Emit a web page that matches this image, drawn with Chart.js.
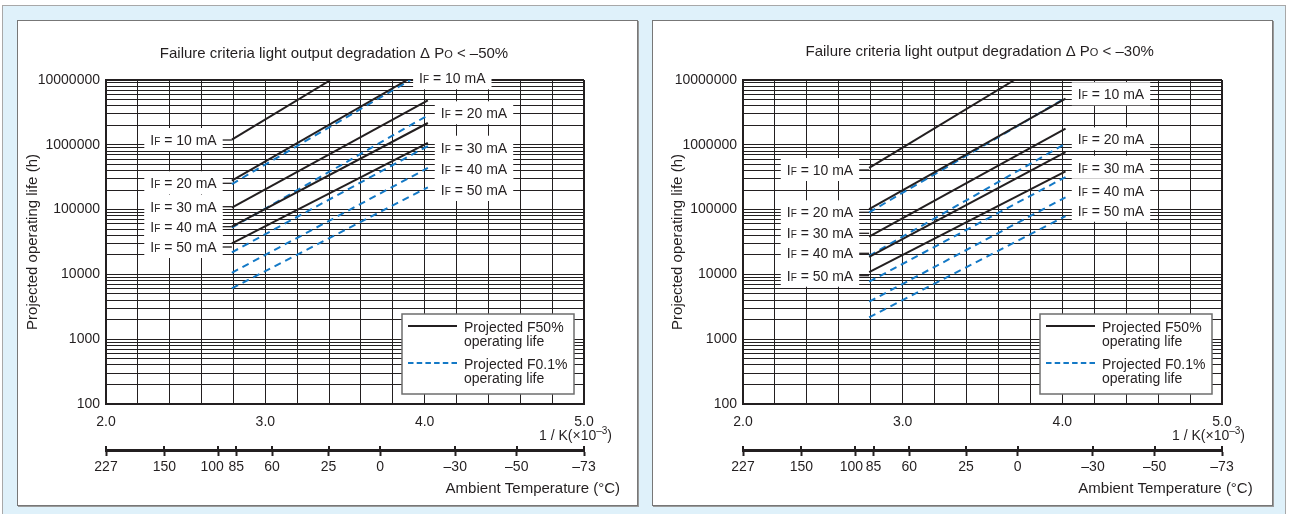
<!DOCTYPE html>
<html>
<head>
<meta charset="utf-8">
<title>Projected operating life vs. ambient temperature</title>
<script src="https://cdn.jsdelivr.net/npm/chart.js@4.4.1/dist/chart.umd.min.js"></script>
<style>
  html, body { margin: 0; padding: 0; background: #fff; }
  body { width: 1293px; height: 514px; position: relative; overflow: hidden; }
  #frame { position: absolute; left: 2px; top: 5px; width: 1282px; height: 520px;
           background: #dff1fa; border: 1px solid #a8a8a8; }
  .panel { position: absolute; top: 20px; width: 619px; height: 484px; background: #fff;
           border: 1px solid #777; box-shadow: 1px 1px 0 #9a9a9a; }
  .panel canvas { display: block; }
</style>
</head>
<body>
<div id="frame"></div>
<div class="panel" style="left:17px"><canvas id="chart50" width="619" height="484"></canvas></div>
<div class="panel" style="left:652px"><canvas id="chart30" width="619" height="484"></canvas></div>

<script>
// ---------- data ----------
// Forward currents of the life curves (mA)
const currentsMA = [10, 20, 30, 40, 50];

// Every curve runs from this reciprocal temperature (1/K ×10⁻³)
const lineStartInvK = 2.79;

// Failure criterion ΔPo < –50 %  (projected life in hours)
const dp50_F50_start = [1.20e6, 2.79e5, 1.07e5, 5.45e4, 3.02e4];
const dp50_F50_endX  = [3.41, 3.89, 4.02, 4.02, 4.02];
const dp50_F50_end   = [1.0e7, 1.0e7, 4.86e6, 2.17e6, 1.07e6];
const dp50_F01_start = [2.48e5, 5.26e4, 2.19e4, 1.06e4, 6.1e3];
const dp50_F01_endX  = [3.91, 4.02, 4.02, 4.02, 4.02];
const dp50_F01_end   = [1.0e7, 2.85e6, 9.58e5, 4.39e5, 2.21e5];

// Failure criterion ΔPo < –30 %
const dp30_F50_start = [4.39e5, 1.02e5, 3.82e4, 1.87e4, 1.08e4];
const dp30_F50_endX  = [3.70, 4.02, 4.02, 4.02, 4.02];
const dp30_F50_end   = [1.0e7, 5.14e6, 1.77e6, 7.74e5, 3.9e5];
const dp30_F01_start = [9.08e4, 1.94e4, 7.71e3, 3.79e3, 2.18e3];
const dp30_F01_endX  = [4.02, 4.02, 4.02, 4.02, 4.02];
const dp30_F01_end   = [5.27e6, 1.04e6, 3.18e5, 1.55e5, 7.96e4];

// Axis labels
const invKTickLabels = ['2.0', '3.0', '4.0', '5.0'];
const lifeTickLabels = ['100', '1000', '10000', '100000', '1000000', '10000000'];
const tempTickLabels = ['227', '150', '100', '85', '60', '25', '0', '–30', '–50', '–73'];
const tempTickInvK   = [2.0, 2.366, 2.703, 2.818, 3.042, 3.397, 3.72, 4.192, 4.578, 5.0];
const seriesLegend   = [['Projected F50%', 'operating life'], ['Projected F0.1%', 'operating life']];

// ---------- styling ----------
const FONT = '"Liberation Sans", Arial, Helvetica, sans-serif';
const INK = '#231f20';
const BLUE = '#1479c6';
const NBSP = '\u00a0';

// grid positions: every 0.2 on 1/K, 1..9 per decade on life
const invKGrid = [];
for (let k = 0; k <= 15; k++) invKGrid.push(+(2 + k * 0.2).toFixed(1));
const lifeGrid = [];
for (let d = 2; d <= 6; d++) for (let m = 1; m <= 9; m++) lifeGrid.push(m * Math.pow(10, d));
lifeGrid.push(1e7);

// ---------- rich-text helpers ----------
function partsWidth(ctx, parts) {
  let w = 0;
  for (const p of parts) { ctx.font = `${p.s}px ${FONT}`; w += ctx.measureText(p.t).width; }
  return w;
}
function drawParts(ctx, parts, x, baseline) {
  ctx.textAlign = 'left';
  ctx.textBaseline = 'alphabetic';
  ctx.fillStyle = INK;
  for (const p of parts) {
    ctx.font = `${p.s}px ${FONT}`;
    ctx.fillText(p.t, x, baseline - (p.dy || 0));
    x += ctx.measureText(p.t).width;
  }
}
const currentParts = mA => [{ t: 'I', s: 14 }, { t: 'F', s: 10 }, { t: ` = ${mA} mA`, s: 14 }];

// ---------- decorations: current tags, legend, captions, temperature ticks ----------
const decorPlugin = {
  id: 'decor',
  beforeDatasetsDraw(chart, args, o) {
    const ctx = chart.ctx, ca = chart.chartArea, xs = chart.scales.x;
    ctx.save();

    // legend box in the lower right of the plot
    const lw = 172, lh = 80, lx = ca.right - 10 - lw, ly = ca.bottom - 10 - lh;
    ctx.fillStyle = '#fff';
    ctx.fillRect(lx, ly, lw, lh);
    ctx.strokeStyle = '#6e6e6e';
    ctx.lineWidth = 1.5;
    ctx.strokeRect(lx, ly, lw, lh);
    seriesLegend.forEach((lines, k) => {
      const sy = ly + (k ? 49 : 12);
      ctx.beginPath();
      ctx.setLineDash(k ? [5.5, 3.2] : []);
      ctx.strokeStyle = k ? BLUE : INK;
      ctx.lineWidth = 2;
      ctx.moveTo(lx + 6, sy);
      ctx.lineTo(lx + 55, sy);
      ctx.stroke();
      ctx.setLineDash([]);
      lines.forEach((t, j) => drawParts(ctx, [{ t, s: 14 }], lx + 62, ly + (k ? 55 : 18) + j * 14));
    });

    // current tags (white boxes over the grid)
    const tag = (cx, cy, mA, leader) => {
      const parts = currentParts(mA);
      const w = partsWidth(ctx, parts);
      const x0 = ca.left + cx - w / 2 - 6, x1 = ca.left + cx + w / 2 + 6, y = ca.top + cy;
      ctx.fillStyle = '#fff';
      ctx.fillRect(x0, y - 12, x1 - x0, 23);
      if (leader) {
        ctx.beginPath();
        ctx.strokeStyle = INK;
        ctx.lineWidth = 1.3;
        ctx.moveTo(x1, y);
        ctx.lineTo(xs.getPixelForValue(lineStartInvK), y);
        ctx.stroke();
      }
      drawParts(ctx, parts, ca.left + cx - w / 2, y + 5);
    };
    currentsMA.forEach((mA, i) => tag(o.leftTags.cx, o.leftTags.cy[i], mA, true));
    currentsMA.forEach((mA, i) => tag(o.rightTags[i].cx, o.rightTags[i].cy, mA, false));
    ctx.restore();
  },
  afterDraw(chart, args, o) {
    const ctx = chart.ctx;
    ctx.save();
    // title
    const tParts = [
      { t: 'Failure criteria light output degradation Δ P', s: 15 },
      { t: 'O', s: 11 },
      { t: ` < –${o.criterion}%`, s: 15 }
    ];
    drawParts(ctx, tParts, o.titleCx - partsWidth(ctx, tParts) / 2, o.titleBase);

    // unit of the reciprocal-temperature axis
    const uParts = [{ t: '1 / K(×10', s: 14 }, { t: '–3', s: 10, dy: 6 }, { t: ')', s: 14 }];
    drawParts(ctx, uParts, o.unitRight - partsWidth(ctx, uParts), o.unitBase);

    // temperature axis caption
    const cParts = [{ t: 'Ambient Temperature (°C)', s: 15 }];
    drawParts(ctx, cParts, o.captionRight - partsWidth(ctx, cParts), o.captionBase);

    // upper halves of the temperature tick marks
    const t = chart.scales.xT;
    ctx.strokeStyle = INK;
    ctx.lineWidth = 2;
    t.ticks.forEach(tk => {
      const px = Math.round(t.getPixelForValue(tk.value));
      ctx.beginPath();
      ctx.moveTo(px, t.top - 4);
      ctx.lineTo(px, t.top);
      ctx.stroke();
    });
    ctx.restore();
  }
};

// ---------- chart factory ----------
function lifeChart(canvasId, cfg) {
  const datasets = [];
  currentsMA.forEach((mA, i) => {
    datasets.push({
      label: `F50% IF=${mA} mA`,
      data: [{ x: lineStartInvK, y: cfg.f50Start[i] }, { x: cfg.f50EndX[i], y: cfg.f50End[i] }],
      borderColor: INK, borderWidth: 2, pointRadius: 0, tension: 0
    });
  });
  currentsMA.forEach((mA, i) => {
    datasets.push({
      label: `F0.1% IF=${mA} mA`,
      data: [{ x: lineStartInvK, y: cfg.f01Start[i] }, { x: cfg.f01EndX[i], y: cfg.f01End[i] }],
      borderColor: BLUE, borderWidth: 2, borderDash: [7, 5], pointRadius: 0, tension: 0
    });
  });

  const tickFont = { family: FONT, size: 14 };
  return new Chart(document.getElementById(canvasId), {
    type: 'line',
    data: { datasets },
    options: {
      responsive: false,
      animation: false,
      events: [],
      layout: { padding: { top: 59, right: cfg.padRight, left: 0, bottom: 0 } },
      plugins: { legend: { display: false }, tooltip: { enabled: false }, decor: cfg.decor },
      scales: {
        x: {
          type: 'linear', min: 2, max: 5, position: 'bottom', weight: 0,
          afterBuildTicks: s => { s.ticks = invKGrid.map(v => ({ value: v })); },
          afterFit: s => { s.height = 46; },
          ticks: {
            autoSkip: false, maxRotation: 0, minRotation: 0, padding: 10, color: INK, font: tickFont,
            callback: v => invKTickLabels.find(l => Math.abs(Number(l) - v) < 1e-6) || ''
          },
          grid: { color: INK, drawTicks: false, lineWidth: c => (c.tick && Math.abs(c.tick.value - 5) < 1e-6 ? 2 : 1) },
          border: { color: INK, width: 2 }
        },
        xT: {
          type: 'linear', min: 2, max: 5, position: 'bottom', weight: 1,
          afterBuildTicks: s => { s.ticks = tempTickInvK.map(v => ({ value: v })); },
          afterFit: s => { s.height = 55; },
          ticks: {
            autoSkip: false, maxRotation: 0, minRotation: 0, padding: 3, color: INK, font: tickFont,
            // "100" sits just left of its tick so it clears the neighbouring "85"
            callback: (v, i) => tempTickLabels[i] + NBSP.repeat(i === 2 ? cfg.hundredShift : 0)
          },
          grid: { display: true, drawOnChartArea: false, drawTicks: true, tickLength: 6, tickWidth: 2, tickColor: INK, color: INK },
          border: { display: true, color: INK, width: 3 }
        },
        y: {
          type: 'logarithmic', min: 100, max: 1e7, position: 'left',
          afterBuildTicks: s => { s.ticks = lifeGrid.map(v => ({ value: v })); },
          afterFit: s => { s.width = cfg.axisWidth; },
          ticks: {
            autoSkip: false, padding: 6, color: INK, font: tickFont,
            callback: v => lifeTickLabels.find(l => Number(l) === v) || ''
          },
          grid: { color: INK, drawTicks: false, lineWidth: c => (c.tick && c.tick.value === 1e7 ? 2 : 1) },
          border: { color: INK, width: 2 },
          title: {
            display: true, text: 'Projected operating life (h)', color: INK, font: { family: FONT, size: 15 },
            padding: { top: cfg.yTitlePad, bottom: 0 }
          }
        }
      }
    },
    plugins: [decorPlugin]
  });
}

lifeChart('chart50', {
  f50Start: dp50_F50_start, f50EndX: dp50_F50_endX, f50End: dp50_F50_end,
  f01Start: dp50_F01_start, f01EndX: dp50_F01_endX, f01End: dp50_F01_end,
  axisWidth: 88, padRight: 53, yTitlePad: 6.3, hundredShift: 3,
  decor: {
    criterion: 50,
    titleCx: 316, titleBase: 36.7,
    unitRight: 594, unitBase: 419,
    captionRight: 602, captionBase: 471.7,
    leftTags: { cx: 77.5, cy: [60, 103.3, 126.7, 146.7, 167] },
    rightTags: [{ cx: 346.3, cy: -1.7 }, { cx: 368, cy: 33.3 }, { cx: 368, cy: 67.7 }, { cx: 368, cy: 89.3 }, { cx: 368, cy: 110 }]
  }
});

lifeChart('chart30', {
  f50Start: dp30_F50_start, f50EndX: dp30_F50_endX, f50End: dp30_F50_end,
  f01Start: dp30_F01_start, f01EndX: dp30_F01_endX, f01End: dp30_F01_end,
  axisWidth: 90, padRight: 50, yTitlePad: 16, hundredShift: 2,
  decor: {
    criterion: 30,
    titleCx: 326.7, titleBase: 35,
    unitRight: 592, unitBase: 419,
    captionRight: 599.7, captionBase: 471.7,
    leftTags: { cx: 77, cy: [90, 132.3, 153.3, 173.3, 195.7] },
    rightTags: [{ cx: 368, cy: 14.3 }, { cx: 368, cy: 59.3 }, { cx: 368, cy: 87.7 }, { cx: 368, cy: 110.7 }, { cx: 368, cy: 130.7 }]
  }
});
</script>
</body>
</html>
